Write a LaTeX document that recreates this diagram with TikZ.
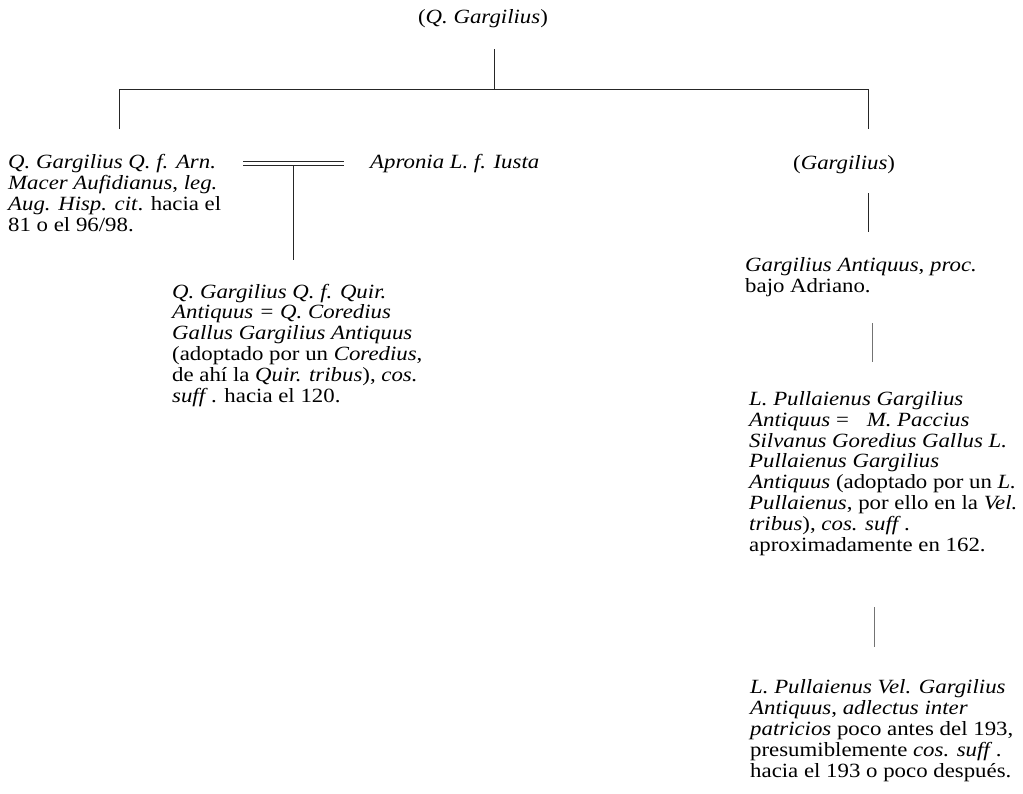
\documentclass[tikz,border=0pt]{standalone}
\usepackage{fontspec}
\setmainfont{Liberation Serif}[FakeStretch=1.13]
\usetikzlibrary{positioning}
\newcommand{\sff}{\textit{suff\/}\,}

\begin{document}
\begin{tikzpicture}[x=1pt,y=-1pt,
	person/.style={anchor=base west, inner sep=0pt, align=left, font=\fontsize{20.2}{20.8}\selectfont},
	link/.style={line width=1pt, black!85},
	thin link/.style={line width=1pt, black!55}]
	\useasboundingbox (0,0) rectangle (1023,793);
	% people (placed at the baseline of their last line)
	\node[person, anchor=base] (qgarg) at (483,23) {(\textit{Q. Gargilius})};
	\node[person] (macer) at (8,231) {\textit{Q. Gargilius Q. f. Arn.}\\
		\textit{Macer Aufidianus}, \textit{leg.}\\
		\textit{Aug. Hisp. cit}. hacia el\\
		81 o el 96/98.};
	\node[person] (apronia) at (370,168) {\textit{Apronia L. f. Iusta}};
	\node[person] (quir) at (172,402) {\textit{Q. Gargilius Q. f. Quir.}\\
		\textit{Antiquus = Q. Coredius}\\
		\textit{Gallus Gargilius Antiquus}\\
		(adoptado por un \textit{Coredius},\\
		de ahí la \textit{Quir. tribus}), \textit{cos.}\\
		\sff. hacia el 120.};
	\node[person] (garg) at (793,169) {(\textit{Gargilius})};
	\node[person] (proc) at (745,292) {\textit{Gargilius Antiquus}, \textit{proc.}\\
		bajo Adriano.};
	\node[person] (paccius) at (749,551) {\textit{L. Pullaienus Gargilius}\\
		\textit{Antiquus} = \hspace{0.6em}\textit{M. Paccius}\\
		\textit{Silvanus Goredius Gallus L.}\\
		\textit{Pullaienus Gargilius}\\
		\textit{Antiquus} (adoptado por un \textit{L.}\\
		\textit{Pullaienus}, por ello en la \textit{Vel.}\\
		\textit{tribus}), \textit{cos.} \sff.\\
		aproximadamente en 162.};
	\node[person] (patric) at (750,777) {\textit{L. Pullaienus Vel. Gargilius}\\
		\textit{Antiquus}, \textit{adlectus inter}\\
		\textit{patricios} poco antes del 193,\\
		presumiblemente \textit{cos.} \sff.\\
		hacia el 193 o poco después.};
	% joints
	\coordinate (top) at (494,49);
	\coordinate (fork) at (494,89);
	\coordinate (lfork) at (119,89);
	\coordinate (rfork) at (868,89);
	\coordinate (lend) at (119,129);
	\coordinate (rend) at (868,129);
	\coordinate (wedl1) at (243,161);
	\coordinate (wedr1) at (344,161);
	\coordinate (wedl2) at (243,165);
	\coordinate (wedr2) at (344,165);
	\coordinate (wedc) at (293,165);
	\coordinate (kid) at (293,260);
	\coordinate (g1) at (868,193);
	\coordinate (g2) at (868,232);
	\coordinate (p1) at (872,323);
	\coordinate (p2) at (872,362);
	\coordinate (s1) at (874,607);
	\coordinate (s2) at (874,647);
	% lines
	\draw[link] (top) -- (fork);
	\draw[link] (lend) -- (lfork) -- (rfork) -- (rend);
	\draw[link] (wedl1) -- (wedr1);
	\draw[link] (wedl2) -- (wedr2);
	\draw[link] (wedc) -- (kid);
	\draw[link] (g1) -- (g2);
	\draw[thin link] (p1) -- (p2);
	\draw[thin link] (s1) -- (s2);
\end{tikzpicture}
\end{document}
